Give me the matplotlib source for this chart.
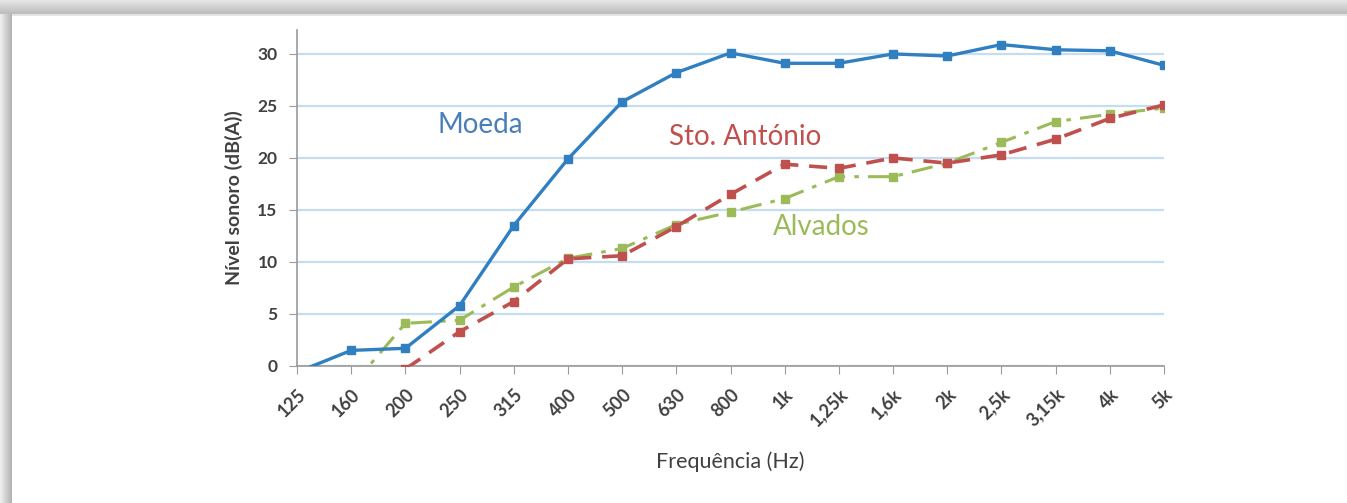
import numpy as np
import matplotlib
matplotlib.use("Agg")
import matplotlib.pyplot as plt

plt.rcParams['font.family'] = ['Lato', 'DejaVu Sans']

# dados
frequencias = ['125', '160', '200', '250', '315', '400', '500', '630', '800', '1k',
               '1,25k', '1,6k', '2k', '2,5k', '3,15k', '4k', '5k']
moeda = [-0.6, 1.5, 1.7, 5.8, 13.5, 19.9, 25.4, 28.2, 30.1, 29.1,
         29.1, 30.0, 29.8, 30.9, 30.4, 30.3, 28.9]
sto_antonio = [np.nan, np.nan, -0.3, 3.3, 6.2, 10.3, 10.6, 13.4, 16.5, 19.4,
               19.0, 20.0, 19.5, 20.3, 21.8, 23.8, 25.1]
alvados = [np.nan, -2.0, 4.1, 4.4, 7.6, 10.35, 11.3, 13.6, 14.8, 16.1,
           18.2, 18.2, 19.5, 21.5, 23.5, 24.2, 24.8]

W, H = 1347, 503
fig = plt.figure(figsize=(W / 100, H / 100), dpi=100)

# moldura com sombra
bg = fig.add_axes([0, 0, 1, 1], zorder=-5)
bg.axis('off')
topo = np.linspace(0.9, 0.74, 14).reshape(-1, 1)
bg.imshow(topo, cmap='gray', vmin=0, vmax=1, extent=(0, W, 14, 0), aspect='auto')
bg.fill_between([12, W], 14, 16, color='#e4e4e4', lw=0)
esq = np.linspace(0.93, 0.7, 12).reshape(1, -1)
bg.imshow(esq, cmap='gray', vmin=0, vmax=1, extent=(0, 12, H, 14), aspect='auto')
bg.set_xlim(0, W)
bg.set_ylim(H, 0)

ax = fig.add_axes([297 / W, 1 - 366 / H, (1164 - 297) / W, (366 - 30) / H])
x = np.arange(len(frequencias))

ax.plot(x, alvados, color='#9bbb59', lw=2.2, ls=(0, (7, 3, 1.5, 3)),
        marker='s', ms=6, zorder=3)
ax.plot(x, sto_antonio, color='#c0504d', lw=2.6, ls=(0, (5, 3)),
        marker='s', ms=6, zorder=4)
ax.plot(x, moeda, color='#2f7fc1', lw=2.4, marker='s', ms=6, zorder=5)

ax.set_xlim(0, 16)
ax.set_ylim(0, 32.3)
ax.set_yticks(range(0, 31, 5))
ax.set_xticks(x)
ax.set_xticklabels(frequencias, rotation=45, ha='right', va='top',
                   rotation_mode='anchor', fontsize=13, fontweight='bold',
                   color='#404040')
for lab in ax.get_yticklabels():
    lab.set_fontsize(12.5)
    lab.set_fontweight('bold')
    lab.set_color('#404040')
ax.tick_params(axis='x', length=6, color='#9a9a9a', pad=8)
ax.tick_params(axis='y', length=6, color='#9a9a9a', pad=8)

ax.grid(axis='y', color='#c6dcef', lw=1.6)
ax.set_axisbelow(True)
for s in ['top', 'right']:
    ax.spines[s].set_visible(False)
for s in ['left', 'bottom']:
    ax.spines[s].set_color('#9a9a9a')
    ax.spines[s].set_linewidth(1.2)

ax.set_ylabel('Nível sonoro (dB(A))', fontsize=14, fontweight='bold',
              color='#404040', labelpad=10)
ax.set_xlabel('Frequência (Hz)', fontsize=15.5, color='#404040', labelpad=16)

ax.text(3.38, 23.2, 'Moeda', color='#4a7ebb', fontsize=20, ha='center', va='center')
ax.text(8.27, 22.0, 'Sto. António', color='#c0504d', fontsize=20, ha='center', va='center')
ax.text(9.67, 13.4, 'Alvados', color='#9bbb59', fontsize=20, ha='center', va='center')

fig.savefig('out.png', dpi=100)
